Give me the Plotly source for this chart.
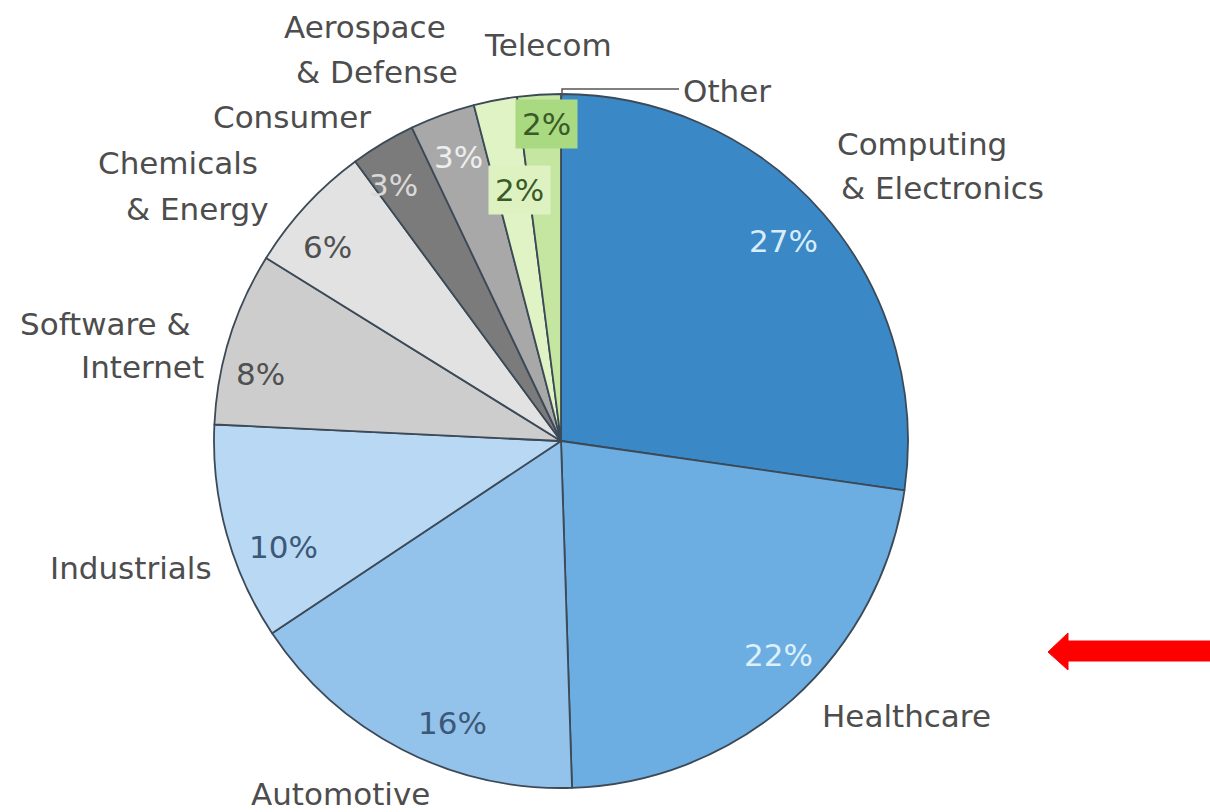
import plotly.graph_objects as go

# Share of companies by industry (%), clockwise from 12 o'clock
categories = ["Computing<br>& Electronics", "Healthcare", "Automotive", "Industrials",
              "Software &<br>Internet", "Chemicals<br>& Energy", "Consumer",
              "Aerospace<br>& Defense", "Telecom", "Other"]
shares = [27, 22, 16, 10, 8, 6, 3, 3, 2, 2]
colors = ["#3a88c5", "#6caee2", "#93c2eb", "#b9d8f4", "#cdcdcd",
          "#e2e2e2", "#7b7b7b", "#a8a8a8", "#e0f3c4", "#c4e6a0"]

W, H = 1210, 812


def px(x):
    return x / W


def py(y):
    return 1 - y / H


fig = go.Figure(go.Pie(
    labels=[c.replace("<br>", " ") for c in categories],
    values=shares,
    sort=False,
    direction="clockwise",
    rotation=0,
    marker=dict(colors=colors, line=dict(color="#3c4a58", width=1.8)),
    textinfo="none",
    hoverinfo="skip",
    showlegend=False,
    domain=dict(x=[px(214), px(908)], y=[py(788), py(94)]),
))

FONT = "DejaVu Sans"
label_color = "#4d4d4d"

# Category name lines, placed around the rim: (x, y) centre of each line
name_pos = [
    [(922, 144), (942, 188)],
    [(906, 716)],
    [(340, 794)],
    [(131, 568)],
    [(105, 324), (142, 367)],
    [(178, 163), (197, 209)],
    [(292, 117)],
    [(365, 27), (377, 72)],
    [(548, 45)],
    [(727, 91)],
]

annotations = []
for cat, spots in zip(categories, name_pos):
    for line, (x, y) in zip(cat.split("<br>"), spots):
        annotations.append(dict(
            x=px(x), y=py(y), xref="paper", yref="paper", text=line,
            showarrow=False, xanchor="center", yanchor="middle",
            font=dict(family=FONT, size=31, color=label_color)))

# Percentage labels inside the slices
pct_pos = [(783, 241), (778, 655), (452, 723), (283, 547), (260, 374),
           (328, 247), (393, 185), (458, 157), (519, 190), (546, 124)]
pct_color = ["#d8edfa", "#ddf0fb", "#3c5877", "#3c5877", "#505050",
             "#505050", "#d9d9d9", "#eeeeee", "#3a5a28", "#3a5a28"]
pct_bg = [None] * 8 + ["#def2c1", "#a9d981"]

for v, (x, y), c, bg in zip(shares, pct_pos, pct_color, pct_bg):
    a = dict(x=px(x), y=py(y), xref="paper", yref="paper", text=f"{v}%",
             showarrow=False, xanchor="center", yanchor="middle",
             font=dict(family=FONT, size=31, color=c))
    if bg:
        a.update(bgcolor=bg, borderpad=6)
    annotations.append(a)

shapes = [
    # leader line for "Other"
    dict(type="path", xref="paper", yref="paper",
         path=f"M {px(562)} {py(97)} L {px(562)} {py(89)} L {px(679)} {py(89)}",
         line=dict(color="#555555", width=1.5)),
    # red pointer arrow
    dict(type="path", xref="paper", yref="paper",
         path=(f"M {px(1210)} {py(641)} L {px(1068)} {py(641)} L {px(1068)} {py(633)} "
               f"L {px(1048)} {py(652)} L {px(1068)} {py(670)} L {px(1068)} {py(661)} "
               f"L {px(1210)} {py(661)} Z"),
         fillcolor="#ff0000", line=dict(color="#ff0000", width=1)),
]

fig.update_layout(
    width=W, height=H,
    margin=dict(l=0, r=0, t=0, b=0),
    paper_bgcolor="white", plot_bgcolor="white",
    annotations=annotations, shapes=shapes,
)

fig.write_html("out.html", config={"displayModeBar": False})
